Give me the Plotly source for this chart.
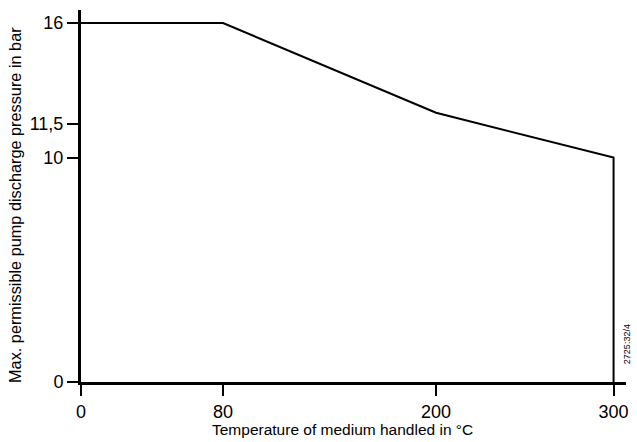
import plotly.graph_objects as go

temperature = [0, 80, 200, 300, 300]
pressure = [16, 16, 12, 10, 0]

x_ticks = [0, 80, 200, 300]
x_ticklabels = ["0", "80", "200", "300"]
y_ticks = [0, 10, 11.5, 16]
y_ticklabels = ["0", "10", "11,5", "16"]

x_title = "Temperature of medium handled in °C"
y_title = "Max. permissible pump discharge pressure in bar"
drawing_no = "2725:32/4"

fig = go.Figure()
fig.add_trace(go.Scatter(
    x=temperature, y=pressure, mode="lines",
    line=dict(color="black", width=2), showlegend=False, hoverinfo="skip"
))

font_family = "Liberation Sans"

fig.update_layout(
    width=637, height=442,
    margin=dict(l=81, r=11, t=10, b=60),
    paper_bgcolor="white", plot_bgcolor="white",
    font=dict(family=font_family, color="black"),
    xaxis=dict(
        range=[0, 307], tickvals=x_ticks, ticktext=x_ticklabels,
        showline=True, linecolor="black", linewidth=3,
        ticks="outside", ticklen=11, tickwidth=2, tickcolor="black",
        showgrid=False, zeroline=False, automargin=False,
        tickfont=dict(size=18, family=font_family, color="black"),
    ),
    yaxis=dict(
        range=[0, 16.58], tickvals=y_ticks, ticktext=y_ticklabels,
        showline=True, linecolor="black", linewidth=3,
        ticks="outside", ticklen=11, tickwidth=2, tickcolor="black",
        showgrid=False, zeroline=False, automargin=False,
        tickfont=dict(size=18, family=font_family, color="black"),
    ),
    annotations=[
        dict(text=x_title, x=0.479, y=-0.129, xref="paper", yref="paper",
             showarrow=False, font=dict(size=15.5, family=font_family),
             xanchor="center", yanchor="middle"),
        dict(text=y_title, x=-0.121, y=0.476, xref="paper", yref="paper",
             textangle=-90, showarrow=False, font=dict(size=16.3, family=font_family),
             xanchor="center", yanchor="middle"),
        dict(text=drawing_no, x=1.002, y=0.102, xref="paper", yref="paper",
             textangle=-90, showarrow=False, font=dict(size=9, family=font_family),
             xanchor="center", yanchor="middle"),
    ],
)

fig.write_html(
    "out.html",
    config={"displayModeBar": False, "staticPlot": True},
    post_script="document.body.style.margin='0';document.body.style.overflow='hidden';",
)
